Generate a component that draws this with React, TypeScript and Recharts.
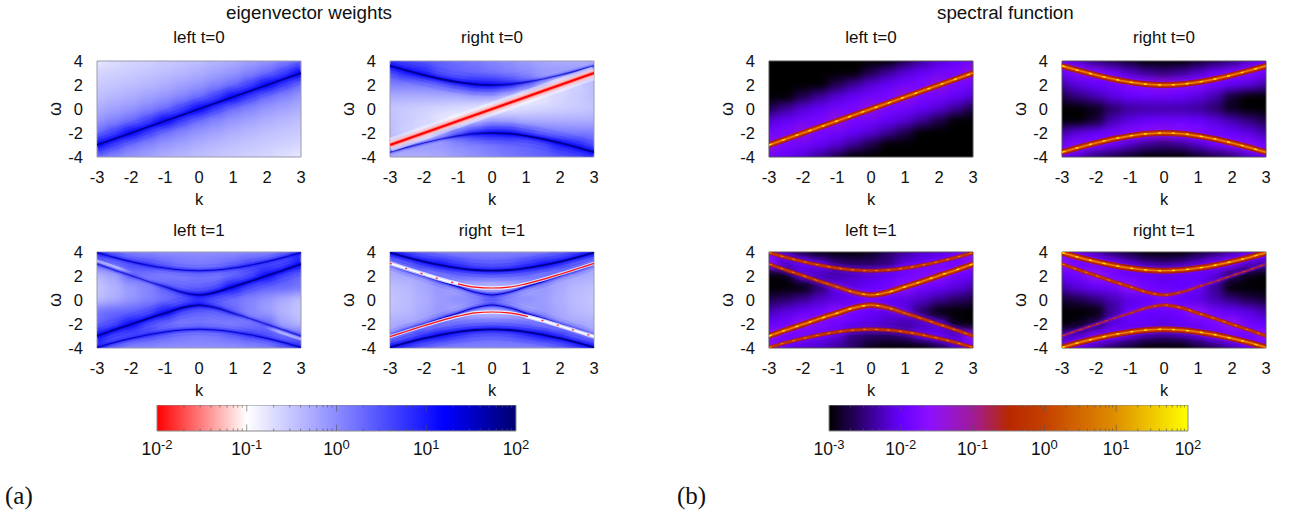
import { ComposedChart, Scatter, Line, XAxis, YAxis, ReferenceArea, ReferenceLine, Label } from "recharts";

const kValues = [-3, -2.5, -2, -1.5, -1, -0.5, 0, 0.5, 1, 1.5, 2, 2.5, 3];
const omegaValues = [4, 3, 2, 1, 0, -1, -2, -3, -4];
const kTicks = [-3, -2, -1, 0, 1, 2, 3];
const omegaTicks = [-4, -2, 0, 2, 4];

// band positions, one value per kValues entry
const diagonal = [-3, -2.5, -2, -1.5, -1, -0.5, 0, 0.5, 1, 1.5, 2, 2.5, 3];
const upperT0 = [3.6, 3.2, 2.83, 2.5, 2.24, 2.06, 2, 2.06, 2.24, 2.5, 2.83, 3.2, 3.6];
const lowerT0 = [-3.6, -3.2, -2.83, -2.5, -2.24, -2.06, -2, -2.06, -2.24, -2.5, -2.83, -3.2, -3.6];
const outerUpT1 = [3.95, 3.55, 3.2, 2.9, 2.66, 2.5, 2.44, 2.5, 2.66, 2.9, 3.2, 3.55, 3.95];
const outerDownT1 = [-3.95, -3.55, -3.2, -2.9, -2.66, -2.5, -2.44, -2.5, -2.66, -2.9, -3.2, -3.55, -3.95];
const innerUpT1 = [3, 2.5, 2.03, 1.55, 1.1, 0.65, 0.42, 0.65, 1.1, 1.55, 2.03, 2.5, 3];
const innerDownT1 = [-3, -2.5, -2.03, -1.55, -1.1, -0.65, -0.42, -0.65, -1.1, -1.55, -2.03, -2.5, -3];
const midUpT1 = [3.05, 2.6, 2.15, 1.72, 1.35, 1.07, 1, 1.07, 1.35, 1.72, 2.15, 2.6, 3.05];
const midDownT1 = [-3.05, -2.6, -2.15, -1.72, -1.35, -1.07, -1, -1.07, -1.35, -1.72, -2.15, -2.6, -3.05];
const streakUpT1 = [3.25, 2.78, 2.3, 1.85, 1.45, 1.15, 1.05, 1.15, 1.45, 1.85, 2.3, 2.78, 3.25];
const streakDownT1 = [-3.25, -2.78, -2.3, -1.85, -1.45, -1.15, -1.05, -1.15, -1.45, -1.85, -2.3, -2.78, -3.25];

// log10 of the colour value, rows follow omegaValues, columns follow kValues
const weightsLeftT0 = [
  [-0.8, -0.72, -0.65, -0.6, -0.55, -0.5, -0.45, -0.38, -0.3, -0.2, -0.1, 0.05, 0.25],
  [-0.65, -0.6, -0.55, -0.5, -0.45, -0.38, -0.3, -0.2, -0.1, 0.05, 0.25, 0.6, 1],
  [-0.55, -0.5, -0.45, -0.38, -0.3, -0.2, -0.1, 0.05, 0.25, 0.6, 1, 0.6, 0.25],
  [-0.45, -0.38, -0.3, -0.2, -0.1, 0.05, 0.25, 0.6, 1, 0.6, 0.25, 0.05, -0.1],
  [-0.3, -0.2, -0.1, 0.05, 0.25, 0.6, 1, 0.6, 0.25, 0.05, -0.1, -0.2, -0.3],
  [-0.1, 0.05, 0.25, 0.6, 1, 0.6, 0.25, 0.05, -0.1, -0.2, -0.3, -0.38, -0.45],
  [0.25, 0.6, 1, 0.6, 0.25, 0.05, -0.1, -0.2, -0.3, -0.38, -0.45, -0.5, -0.55],
  [1, 0.6, 0.25, 0.05, -0.1, -0.2, -0.3, -0.38, -0.45, -0.5, -0.55, -0.6, -0.65],
  [0.25, 0.05, -0.1, -0.2, -0.3, -0.38, -0.45, -0.5, -0.55, -0.6, -0.65, -0.72, -0.8],
];
const weightsRightT0 = [
  [0.75, 0.55, 0.45, 0.35, 0.25, 0.15, 0.05, -0.05, -0.15, -0.25, -0.3, -0.3, -0.2],
  [0.5, 0.8, 0.8, 0.45, 0.35, 0.3, 0.2, 0.1, 0, -0.1, -0.1, -0.1, -0.4],
  [0.1, 0.1, 0.15, 0.25, 0.5, 0.8, 0.9, 0.7, 0.35, -0.1, -0.7, -0.6, -0.45],
  [-0.3, -0.3, -0.3, -0.3, -0.3, -0.2, -0.2, -0.5, -0.9, -0.8, -0.65, -0.55, -0.45],
  [-0.5, -0.55, -0.6, -0.65, -0.7, -0.8, -0.95, -0.8, -0.7, -0.65, -0.6, -0.55, -0.5],
  [-0.45, -0.55, -0.65, -0.8, -0.9, -0.5, -0.2, -0.2, -0.3, -0.3, -0.3, -0.3, -0.3],
  [-0.45, -0.6, -0.7, -0.1, 0.35, 0.7, 0.9, 0.8, 0.5, 0.25, 0.15, 0.1, 0.1],
  [-0.4, -0.1, -0.1, -0.1, 0, 0.1, 0.2, 0.3, 0.35, 0.45, 0.8, 0.8, 0.5],
  [-0.2, -0.3, -0.3, -0.25, -0.15, -0.05, 0.05, 0.15, 0.25, 0.35, 0.45, 0.55, 0.75],
];
const weightsLeftT1 = [
  [0.7, 0.4, 0.1, 0, -0.05, -0.05, -0.05, -0.05, -0.05, 0, 0.05, 0.25, 0.7],
  [0.3, 0.3, 0.45, 0.5, 0.35, 0.2, 0.15, 0.2, 0.35, 0.5, 0.5, 0.55, 0.9],
  [-0.4, -0.2, 0.3, 0.2, 0.1, 0.15, 0.2, 0.15, 0.25, 0.45, 0.9, 0.5, 0.3],
  [-0.5, -0.35, -0.15, 0.05, 0.3, 0.25, 0.3, 0.4, 0.9, 0.5, 0.35, 0.3, 0.2],
  [-0.45, -0.3, -0.1, 0.05, 0.2, 0.4, 0.7, 0.4, 0.2, 0.05, -0.1, -0.3, -0.45],
  [0.2, 0.3, 0.35, 0.5, 0.9, 0.4, 0.3, 0.25, 0.3, 0.05, -0.15, -0.35, -0.5],
  [0.3, 0.5, 0.9, 0.45, 0.25, 0.15, 0.2, 0.15, 0.1, 0.2, 0.3, -0.2, -0.4],
  [0.9, 0.55, 0.5, 0.5, 0.35, 0.2, 0.15, 0.2, 0.35, 0.5, 0.45, 0.3, 0.3],
  [0.7, 0.25, 0.05, 0, -0.05, -0.05, -0.05, -0.05, -0.05, 0, 0.1, 0.4, 0.7],
];
const weightsRightT1 = [
  [0.8, 0.6, 0.3, 0.1, 0.05, 0.05, 0.05, 0.05, 0.05, 0.1, 0.3, 0.6, 0.8],
  [-0.2, 0.2, 0.6, 0.8, 0.6, 0.4, 0.35, 0.4, 0.6, 0.8, 0.6, 0.2, -0.2],
  [-0.3, -0.25, -0.2, 0, 0.2, 0.2, 0.2, 0.2, 0.2, 0, -0.2, -0.25, -0.3],
  [-0.45, -0.4, -0.25, -0.1, -0.3, -0.4, -0.5, -0.4, -0.3, -0.1, -0.25, -0.4, -0.45],
  [-0.5, -0.42, -0.3, -0.15, 0, 0.15, 0.5, 0.15, 0, -0.15, -0.3, -0.42, -0.5],
  [-0.45, -0.4, -0.25, -0.1, -0.3, -0.4, -0.5, -0.4, -0.3, -0.1, -0.25, -0.4, -0.45],
  [-0.3, -0.25, -0.2, 0, 0.2, 0.2, 0.2, 0.2, 0.2, 0, -0.2, -0.25, -0.3],
  [-0.2, 0.2, 0.6, 0.8, 0.6, 0.4, 0.35, 0.4, 0.6, 0.8, 0.6, 0.2, -0.2],
  [0.8, 0.6, 0.3, 0.1, 0.05, 0.05, 0.05, 0.05, 0.05, 0.1, 0.3, 0.6, 0.8],
];
const spectralLeftT0 = [
  [-3, -3, -3, -3, -3, -3, -3, -3, -2.7, -2.4, -2.15, -2.02, -1.9],
  [-3, -3, -3, -3, -3, -3, -2.7, -2.4, -2.15, -2.02, -1.9, -1.8, -1.3],
  [-3, -3, -3, -3, -2.7, -2.4, -2.15, -2.02, -1.9, -1.8, -1.3, -1.8, -1.9],
  [-3, -3, -2.7, -2.4, -2.15, -2.02, -1.9, -1.8, -1.3, -1.8, -1.9, -2.02, -2.15],
  [-2.7, -2.4, -2.15, -2.02, -1.9, -1.8, -1.3, -1.8, -1.9, -2.02, -2.15, -2.4, -2.7],
  [-2.15, -2.02, -1.9, -1.8, -1.3, -1.8, -1.9, -2.02, -2.15, -2.4, -2.7, -3, -3],
  [-1.9, -1.8, -1.3, -1.8, -1.9, -2.02, -2.15, -2.4, -2.7, -3, -3, -3, -3],
  [-1.3, -1.8, -1.9, -2.02, -2.15, -2.4, -2.7, -3, -3, -3, -3, -3, -3],
  [-1.9, -2.02, -2.15, -2.4, -2.7, -3, -3, -3, -3, -3, -3, -3, -3],
];
const spectralRightT0 = [
  [-2, -2.2, -2.5, -2.7, -2.85, -3, -3, -3, -2.85, -2.7, -2.5, -2.2, -2],
  [-1.9, -1.7, -1.7, -1.9, -2.2, -2.4, -2.5, -2.4, -2.2, -1.95, -1.8, -1.7, -1.9],
  [-2.3, -2.1, -2, -1.9, -1.7, -1.6, -1.4, -1.6, -1.7, -1.9, -2, -2.1, -2.3],
  [-2.7, -2.5, -2.3, -2.1, -2, -1.95, -1.95, -2, -2.1, -2.3, -2.8, -3, -3],
  [-3, -3, -2.9, -2.6, -2.4, -2.35, -2.35, -2.35, -2.4, -2.6, -2.9, -3, -3],
  [-3, -3, -2.8, -2.3, -2.1, -2, -1.95, -1.95, -2, -2.1, -2.3, -2.5, -2.7],
  [-2.3, -2.1, -2, -1.9, -1.7, -1.6, -1.4, -1.6, -1.7, -1.9, -2, -2.1, -2.3],
  [-1.9, -1.7, -1.8, -1.95, -2.2, -2.4, -2.5, -2.4, -2.2, -1.9, -1.7, -1.7, -1.9],
  [-2, -2.2, -2.5, -2.7, -2.85, -3, -3, -3, -2.85, -2.7, -2.5, -2.2, -2],
];
const spectralLeftT1 = [
  [-1.9, -2.3, -2.7, -3, -3, -3, -2.9, -2.6, -2.4, -2.2, -2.1, -2, -1.7],
  [-1.6, -2.1, -2, -2.1, -2.5, -2.6, -2.6, -2.5, -2.1, -2, -1.9, -1.9, -1.5],
  [-3, -2.9, -2.2, -2.2, -2.3, -2.2, -2.1, -2, -1.9, -1.7, -1.5, -1.9, -2],
  [-3, -3, -3, -2.6, -2.1, -2.1, -2, -1.9, -1.6, -1.9, -2, -2.1, -2.3],
  [-2.7, -2.6, -2.4, -2.2, -2.1, -2, -1.8, -2, -2.1, -2.2, -2.4, -2.6, -2.7],
  [-2.3, -2.1, -2, -1.9, -1.6, -1.9, -2, -2.1, -2.1, -2.6, -3, -3, -3],
  [-2, -1.9, -1.5, -1.7, -1.9, -2, -2.1, -2.2, -2.3, -2.2, -2.2, -2.9, -3],
  [-1.5, -1.9, -1.9, -2, -2.1, -2.5, -2.6, -2.6, -2.5, -2.1, -2, -2.1, -1.6],
  [-1.7, -2, -2.1, -2.2, -2.4, -2.6, -2.9, -3, -3, -3, -2.7, -2.3, -1.9],
];
const spectralRightT1 = [
  [-1.8, -2, -2.3, -2.6, -2.8, -3, -3, -3, -2.8, -2.6, -2.3, -2, -1.8],
  [-1.6, -1.9, -1.8, -1.9, -2.2, -2.4, -2.5, -2.4, -2.2, -1.9, -1.8, -2.2, -2.3],
  [-2, -1.9, -1.5, -1.8, -1.95, -2, -2.1, -2, -2, -2.1, -2.6, -2.9, -3],
  [-2.3, -2.1, -2, -1.9, -1.6, -1.9, -1.95, -2, -2, -2.4, -3, -3, -3],
  [-2.8, -2.7, -2.5, -2.3, -2.1, -2, -1.8, -2, -2.1, -2.3, -2.5, -2.7, -2.8],
  [-3, -3, -3, -2.4, -2, -2, -1.95, -1.9, -1.6, -1.9, -2, -2.1, -2.3],
  [-3, -2.9, -2.6, -2.1, -2, -2, -2.1, -2, -1.95, -1.8, -1.5, -1.9, -2],
  [-2.3, -2.2, -1.8, -1.9, -2.2, -2.4, -2.5, -2.4, -2.2, -1.9, -1.8, -1.9, -1.6],
  [-1.8, -2, -2.3, -2.6, -2.8, -3, -3, -3, -2.8, -2.6, -2.3, -2, -1.8],
];

const weightStops: [number, string][] = [[-2, "#ff0000"], [-1, "#ffffff"], [1.2, "#0000ff"], [2, "#000070"]];
const spectralStops: [number, string][] = [
  [-3, "#000000"], [-2, "#6600ff"], [-1.6, "#8c10ff"], [-1, "#a01a9a"], [-0.5, "#b82800"],
  [0, "#c44000"], [1, "#e09000"], [2, "#ffff00"],
];
const minorSteps = [0.3, 0.48, 0.6, 0.7, 0.78, 0.85, 0.9, 0.95];

const FONT = "'Liberation Sans', Arial, sans-serif";
const PW = 204;
const PH = 96;

function hexToRgb(h: string) {
  return [1, 3, 5].map((i) => parseInt(h.slice(i, i + 2), 16));
}
function valueColor(v: number, stops: [number, string][]) {
  for (let i = 1; i < stops.length; i++) {
    if (v <= stops[i][0]) {
      const t = Math.max(0, (v - stops[i - 1][0]) / (stops[i][0] - stops[i - 1][0]));
      const a = hexToRgb(stops[i - 1][1]);
      const b = hexToRgb(stops[i][1]);
      return `rgb(${a.map((x, j) => Math.round(x + (b[j] - x) * t)).join(",")})`;
    }
  }
  return stops[stops.length - 1][1];
}

// [stroke width, colour, opacity, dash]
type Stroke = [number, string, number, string?];
const blueStrong: Stroke[] = [[22, "#0000ff", 0.08], [14, "#0000ff", 0.15], [8, "#0000ff", 0.3], [4, "#0000ff", 0.45], [1.8, "#00008c", 1]];
const blueMid: Stroke[] = [[12, "#0000ff", 0.08], [6, "#0000ff", 0.2], [3, "#0000ff", 0.35], [1.1, "#0000b0", 0.85]];
const blueThin: Stroke[] = [[6, "#0000ff", 0.1], [3, "#0000ff", 0.25], [1.1, "#2020d0", 1]];
const paleStreak: Stroke[] = [[3, "#ffffff", 0.45]];
const redStrong: Stroke[] = [[14, "#ffffff", 0.4], [8, "#ffc0c0", 0.7], [4, "#ff8080", 0.8], [2.2, "#ff0000", 1]];
const redDashed: Stroke[] = [[4, "#ffffff", 0.75], [1.4, "#ffffff", 1], [1.2, "#ff2020", 1, "2 14"]];
const redSolid: Stroke[] = [[3.5, "#ffffff", 0.75], [1.2, "#ff1010", 1]];
const fireStrong: Stroke[] = [[16, "#7a00ff", 0.2], [9, "#8a10ff", 0.3], [6, "#a02000", 0.9], [4, "#c83000", 1], [1.6, "#e88000", 1], [1.4, "#ffe000", 1, "3 11"]];
const fireMid: Stroke[] = [[10, "#8a10ff", 0.2], [4, "#a82010", 0.8], [2.2, "#c43400", 1], [1, "#e88000", 1, "3 9"]];
const fireThin: Stroke[] = [[5, "#8a10ff", 0.3], [2, "#a01860", 1], [1, "#c84800", 1, "3 6"]];

// fade: "right" keeps the look on the left and lets it die out towards k>0, "left" the mirror image
type Ridge = { values: number[]; from?: number; to?: number; look: Stroke[]; fade?: "left" | "right" };

function fadeDefs(panelId: string, ridges: Ridge[]) {
  return ridges.flatMap((r, i) =>
    r.fade
      ? r.look.map((s, j) => (
          <linearGradient key={`${i}-${j}`} id={`${panelId}-${i}-${j}`} x1="0" x2="1" y1="0" y2="0">
            <stop offset={r.fade === "right" ? 0.42 : 0.25} stopColor={s[1]} stopOpacity={r.fade === "right" ? 1 : 0} />
            <stop offset={r.fade === "right" ? 0.75 : 0.58} stopColor={s[1]} stopOpacity={r.fade === "right" ? 0 : 1} />
          </linearGradient>
        ))
      : [],
  );
}

function ridgeLines(panelId: string, ridges: Ridge[]) {
  return ridges.flatMap((r, i) => {
    const rows = kValues
      .map((k, j) => ({ k, w: r.values[j] }))
      .slice(r.from ?? 0, r.to ?? kValues.length);
    return r.look.map((s, j) => (
      <Line
        key={`${i}-${j}`}
        data={rows}
        dataKey="w"
        type="monotone"
        stroke={r.fade ? `url(#${panelId}-${i}-${j})` : s[1]}
        strokeWidth={s[0]}
        strokeOpacity={s[2]}
        strokeDasharray={s[3]}
        dot={false}
        activeDot={false}
        legendType="none"
        isAnimationActive={false}
      />
    ));
  });
}

function HeatCell(props: any) {
  const { cx, cy, payload } = props;
  let x0 = cx - 9;
  let x1 = cx + 9;
  let y0 = cy - 6.5;
  let y1 = cy + 6.5;
  // edge cells run past the frame so the blur keeps its colour up to the border
  if (payload.k === -3) x0 -= 24;
  if (payload.k === 3) x1 += 24;
  if (payload.w === 4) y0 -= 24;
  if (payload.w === -4) y1 += 24;
  return <rect x={x0} y={y0} width={x1 - x0} height={y1 - y0} fill={payload.color} />;
}

function Panel({ id, left, top, title, rows, stops, ridges, border, titleTop = 7 }: any) {
  const cells = omegaValues.flatMap((w, r) =>
    kValues.map((k, c) => ({ k, w, color: valueColor(rows[r][c], stops) })),
  );
  const tickStyle = { fontSize: 16.5, fontFamily: FONT, fill: "#111" };
  return (
    <div style={{ position: "absolute", left: left - 60, top: top - 40, width: PW + 80, height: 186 }}>
      <div style={{ position: "absolute", left: 60, top: 40, width: PW, height: PH, overflow: "hidden" }}>
        <ComposedChart className="heat" width={PW} height={PH} margin={{ top: 0, right: 0, bottom: 0, left: 0 }}>
          <XAxis type="number" dataKey="k" domain={[-3, 3]} hide />
          <YAxis type="number" dataKey="w" domain={[-4, 4]} hide />
          <Scatter data={cells} dataKey="w" shape={HeatCell} isAnimationActive={false} />
        </ComposedChart>
      </div>
      <div style={{ position: "absolute", left: 60, width: PW, top: titleTop, textAlign: "center", font: `17px ${FONT}`, color: "#111", whiteSpace: "pre" }}>
        {title}
      </div>
      <div style={{ position: "absolute", left: 0, top: 0 }}>
        <ComposedChart width={PW + 80} height={186} margin={{ top: 40, right: 20, bottom: 0, left: 10 }}>
          <defs>{fadeDefs(id, ridges)}</defs>
          <XAxis
            type="number"
            dataKey="k"
            domain={[-3, 3]}
            ticks={kTicks}
            interval={0}
            allowDataOverflow
            height={50}
            tickLine={false}
            axisLine={false}
            tick={tickStyle}
            tickMargin={8}
          >
            <Label value="k" position="insideBottom" offset={2} style={tickStyle} />
          </XAxis>
          <YAxis
            type="number"
            domain={[-4, 4]}
            ticks={omegaTicks}
            interval={0}
            allowDataOverflow
            width={50}
            tickLine={false}
            axisLine={false}
            tick={tickStyle}
            tickMargin={8}
          >
            <Label value="ω" angle={-90} position="insideLeft" offset={8} style={{ ...tickStyle, fontSize: 18, textAnchor: "middle" }} />
          </YAxis>
          {ridgeLines(id, ridges)}
          <ReferenceArea x1={-3} x2={3} y1={-4} y2={4} fill="none" fillOpacity={0} stroke={border} strokeWidth={1} ifOverflow="visible" />
        </ComposedChart>
      </div>
    </div>
  );
}

function ColorBar({ left, stops, ticks, id }: any) {
  const min = stops[0][0];
  const max = stops[stops.length - 1][0];
  const decades = ticks.slice(0, -1);
  const minor = decades.flatMap((d: number) => minorSteps.map((m) => d + m));
  const barRows = stops.map((s: [number, string]) => ({ x: s[0], y: 0.5 }));
  const marks = (list: number[], len: number) =>
    list.flatMap((t) => [
      <ReferenceLine key={`b${t}`} segment={[{ x: t, y: 0 }, { x: t, y: len }]} stroke="#555" strokeOpacity={0.6} />,
      <ReferenceLine key={`t${t}`} segment={[{ x: t, y: 1 - len }, { x: t, y: 1 }]} stroke="#555" strokeOpacity={0.6} />,
    ]);
  return (
    <div style={{ position: "absolute", left: left - 40, top: 405 }}>
      <ComposedChart width={439} height={66} data={barRows} margin={{ top: 0, right: 40, bottom: 0, left: 40 }}>
        <defs>
          <linearGradient id={id} x1="0" x2="1" y1="0" y2="0">
            {stops.map((s: [number, string]) => (
              <stop key={s[0]} offset={(s[0] - min) / (max - min)} stopColor={s[1]} />
            ))}
          </linearGradient>
        </defs>
        <XAxis
          type="number"
          dataKey="x"
          domain={[min, max]}
          ticks={ticks}
          interval={0}
          height={40}
          axisLine={false}
          tickLine={false}
          tick={(p: any) => (
            <text x={p.x} y={p.y + 16} textAnchor="middle" fontSize={17.5} fontFamily={FONT} fill="#111">
              10
              <tspan dy={-6} fontSize={13}>
                {p.payload.value}
              </tspan>
            </text>
          )}
        />
        <YAxis type="number" domain={[0, 1]} hide />
        <Line dataKey="y" stroke="none" dot={false} activeDot={false} legendType="none" isAnimationActive={false} />
        <ReferenceArea x1={min} x2={max} y1={0} y2={1} fill={`url(#${id})`} fillOpacity={1} stroke="#8a8a8a" />
        {marks(minor, 0.1)}
        {marks(ticks.slice(1, -1), 0.25)}
      </ComposedChart>
    </div>
  );
}

const textAt = (left: number, top: number, size: number, family: string): React.CSSProperties => ({
  position: "absolute",
  left,
  top,
  fontSize: size,
  fontFamily: family,
  color: "#111",
  whiteSpace: "pre",
});

export default function App() {
  return (
    <div style={{ position: "absolute", left: 0, top: 0, width: 1296, height: 515, background: "#fff", overflow: "hidden" }}>
      <style>{`.heat .recharts-scatter { filter: blur(5px); }`}</style>
      <div style={textAt(226, 2, 18.8, FONT)}>eigenvector weights</div>
      <div style={textAt(937, 2, 18.8, FONT)}>spectral function</div>

      <Panel id="a1" left={97} top={61} title="left t=0" rows={weightsLeftT0} stops={weightStops} border="#9a9ab0"
        ridges={[{ values: diagonal, look: blueStrong }]} />
      <Panel id="a2" left={390} top={61} title="right t=0" rows={weightsRightT0} stops={weightStops} border="#9a9ab0"
        ridges={[
          { values: upperT0, look: blueThin },
          { values: upperT0, look: blueStrong, fade: "right" },
          { values: lowerT0, look: blueThin },
          { values: lowerT0, look: blueStrong, fade: "left" },
          { values: diagonal, look: redStrong },
        ]} />
      <Panel id="a3" left={97} top={252} titleTop={9} title="left t=1" rows={weightsLeftT1} stops={weightStops} border="#9a9ab0"
        ridges={[
          { values: streakUpT1, to: 4, look: paleStreak, fade: "right" },
          { values: streakDownT1, from: 9, look: paleStreak, fade: "left" },
          { values: outerUpT1, look: blueMid },
          { values: outerDownT1, look: blueMid },
          { values: innerUpT1, look: blueThin },
          { values: innerUpT1, look: blueStrong, fade: "left" },
          { values: innerDownT1, look: blueThin },
          { values: innerDownT1, look: blueStrong, fade: "right" },
        ]} />
      <Panel id="a4" left={390} top={252} titleTop={9} title="right  t=1" rows={weightsRightT1} stops={weightStops} border="#9a9ab0"
        ridges={[
          { values: outerUpT1, look: blueStrong },
          { values: outerDownT1, look: blueStrong },
          { values: innerUpT1, look: blueMid },
          { values: innerDownT1, look: blueMid },
          { values: midUpT1, to: 5, look: redDashed },
          { values: midUpT1, from: 4, look: redSolid },
          { values: midDownT1, to: 9, look: redSolid },
          { values: midDownT1, from: 8, look: redDashed },
        ]} />

      <Panel id="b1" left={769} top={61} title="left t=0" rows={spectralLeftT0} stops={spectralStops} border="#555"
        ridges={[{ values: diagonal, look: fireStrong }]} />
      <Panel id="b2" left={1062} top={61} title="right t=0" rows={spectralRightT0} stops={spectralStops} border="#555"
        ridges={[
          { values: upperT0, look: fireStrong },
          { values: lowerT0, look: fireStrong },
        ]} />
      <Panel id="b3" left={769} top={252} titleTop={9} title="left t=1" rows={spectralLeftT1} stops={spectralStops} border="#555"
        ridges={[
          { values: outerUpT1, look: fireMid },
          { values: outerDownT1, look: fireMid },
          { values: innerUpT1, look: fireMid },
          { values: innerUpT1, look: fireStrong, fade: "left" },
          { values: innerDownT1, look: fireMid },
          { values: innerDownT1, look: fireStrong, fade: "right" },
        ]} />
      <Panel id="b4" left={1062} top={252} titleTop={9} title="right t=1" rows={spectralRightT1} stops={spectralStops} border="#555"
        ridges={[
          { values: outerUpT1, look: fireStrong },
          { values: outerDownT1, look: fireStrong },
          { values: innerUpT1, look: fireThin },
          { values: innerUpT1, look: fireMid, fade: "right" },
          { values: innerDownT1, look: fireThin },
          { values: innerDownT1, look: fireMid, fade: "left" },
        ]} />

      <ColorBar left={157} stops={weightStops} ticks={[-2, -1, 0, 1, 2]} id="weightBar" />
      <ColorBar left={829} stops={spectralStops} ticks={[-3, -2, -1, 0, 1, 2]} id="spectralBar" />

      <div style={textAt(5, 482, 25, "'Liberation Serif', serif")}>(a)</div>
      <div style={textAt(677, 482, 25, "'Liberation Serif', serif")}>(b)</div>
    </div>
  );
}
